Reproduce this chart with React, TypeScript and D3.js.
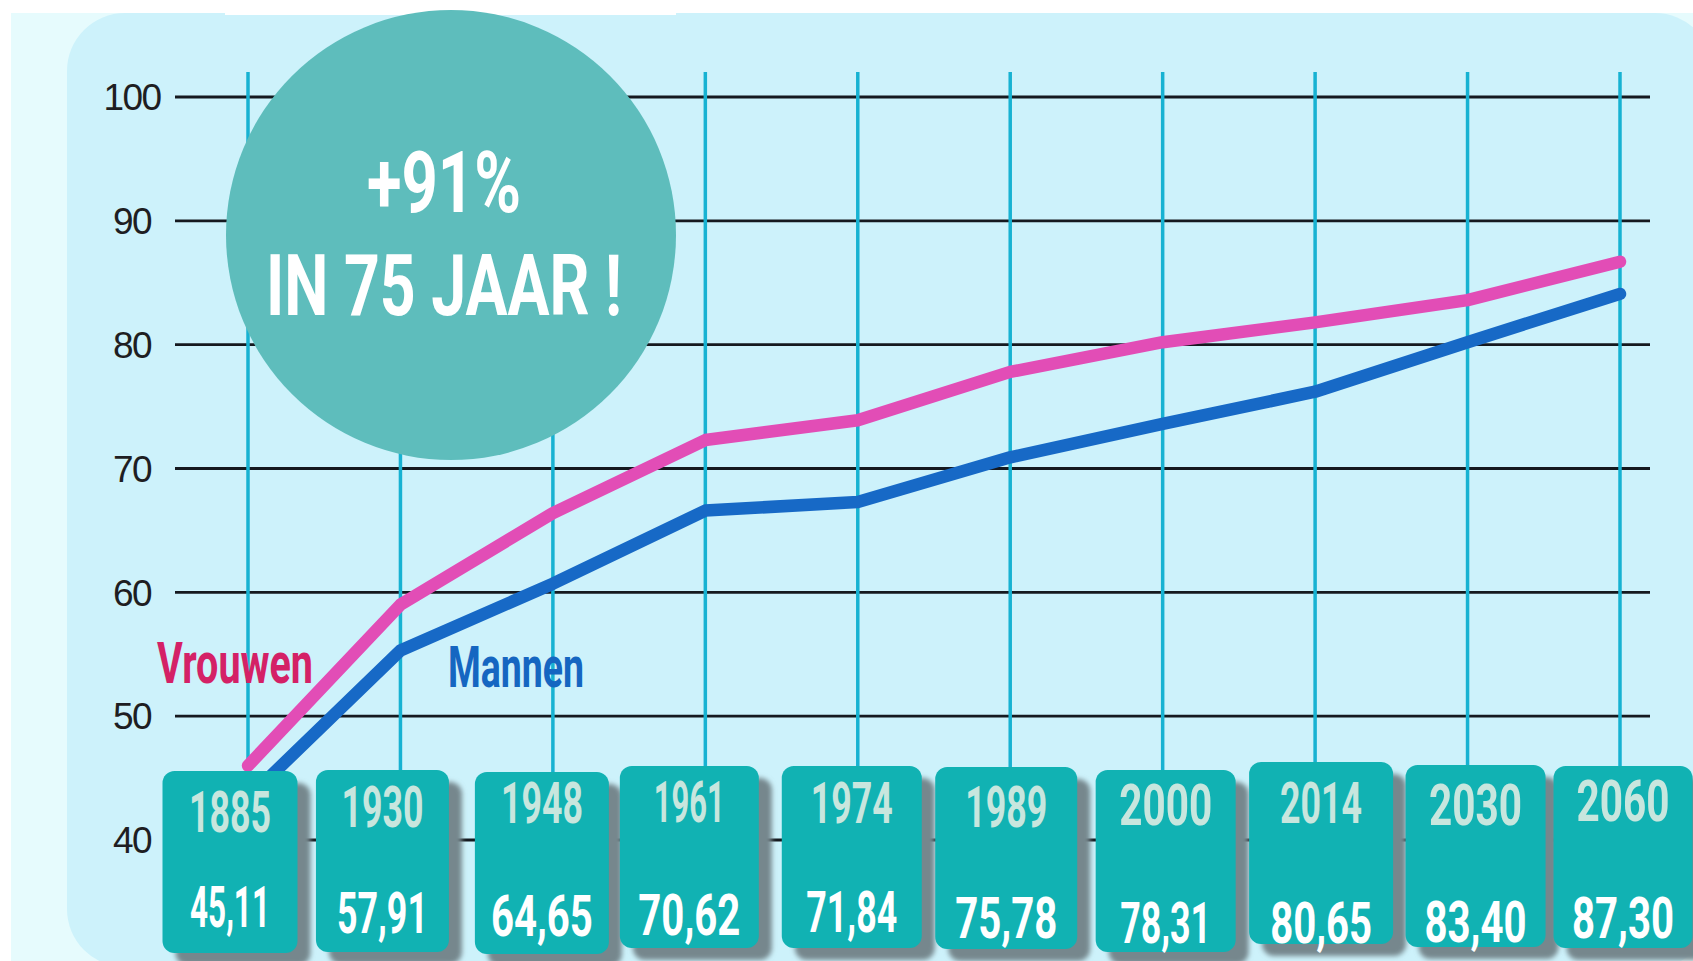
import React, { useLayoutEffect, useRef, useState } from 'react';
import * as d3 from 'd3';

// ---------- data ----------
const years = ['1885', '1930', '1948', '1961', '1974', '1989', '2000', '2014', '2030', '2060'];
const boxValues = ['45,11', '57,91', '64,65', '70,62', '71,84', '75,78', '78,31', '80,65', '83,40', '87,30'];
const vrouwen = [46.0, 59.0, 66.4, 72.3, 73.9, 77.8, 80.2, 81.8, 83.6, 86.7];
const mannen = [43.4, 55.3, 60.7, 66.6, 67.3, 70.9, 73.6, 76.2, 80.2, 84.1];
const yTicks = [40, 50, 60, 70, 80, 90, 100];
const badgeLines = ['+91%', 'IN 75 JAAR !'];
const seriesLabels = ['Vrouwen', 'Mannen'];

// ---------- layout (not data) ----------
const W = 1693;
const H = 961;
const BOX_DX = [-18, -18, -11, -16, -6, -4, 3, 6, 8, 3];
const BOX_DY = [5, 4, 6, 0, 0, 1, 4, -4, -1, 0];
const BOX_W = [135, 133, 134, 139, 140, 142, 140, 144, 140, 139];
// label nudges inside boxes (relative to the common label rows)
const YEAR_DY = [7, 2, -2, -3, -2, 2, 0, -2, 0, -4];
const VAL_DY = [-8, -2, 1, 0, -3, 3, 8, 8, 7, 3];

const COND = "Roboto, 'Liberation Sans', sans-serif";

// approximate advance model of a condensed display face
function condLen(s: string, digit = 24, one = 13, comma = 9) {
  let w = 0;
  for (const c of s) {
    if (c === '1') w += one;
    else if (c === ',') w += comma;
    else w += digit;
  }
  return w - 3;
}

type FitProps = {
  x: number;
  y: number;
  width: number;
  anchor?: 'start' | 'middle' | 'end';
  fontSize: number;
  fill: string;
  children: string;
};

// text squeezed horizontally to a target width (condensed look)
function FitText({ x, y, width, anchor = 'start', fontSize, fill, children }: FitProps) {
  const ref = useRef<SVGTextElement>(null);
  const [s, setS] = useState(0.72);
  useLayoutEffect(() => {
    if (ref.current) {
      const w = ref.current.getComputedTextLength();
      if (w > 0) setS(width / w);
    }
  }, [width, children, fontSize]);
  return (
    <text
      ref={ref}
      transform={`translate(${x},${y}) scale(${s},1)`}
      x={0}
      y={0}
      textAnchor={anchor}
      fontFamily={COND}
      fontWeight={700}
      fontSize={fontSize}
      fill={fill}
    >
      {children}
    </text>
  );
}

export default function App() {
  const x = d3.scalePoint<string>().domain(years).range([248, 1620]);
  const y = d3.scaleLinear().domain([40, 100]).range([840, 97]);
  const line = d3
    .line<number>()
    .x((_, i) => x(years[i]) as number)
    .y((d) => y(d));

  const yearRow = y(40) - 15;
  const valueRow = y(40) + 95;

  return (
    <svg
      width={W}
      height={H}
      viewBox={`0 0 ${W} ${H}`}
      style={{ position: 'absolute', left: 0, top: 0, background: '#ffffff' }}
    >
      <defs>
        <filter id="shadow" x="-20%" y="-20%" width="140%" height="140%">
          <feGaussianBlur stdDeviation="2.5" />
        </filter>
      </defs>

      {/* background */}
      <rect x={0} y={0} width={W} height={H} fill="#ffffff" />
      <rect x={11} y={13} width={W} height={H} fill="#e6fbfd" />
      <rect x={67} y={13} width={W - 67 + 20} height={H - 13 + 6} rx={58} ry={58} fill="#cdf2fb" />
      <rect x={225} y={0} width={451} height={15} fill="#ffffff" />

      {/* horizontal grid */}
      {yTicks.map((t) => (
        <line key={'h' + t} x1={175} x2={1650} y1={y(t)} y2={y(t)} stroke="#15191f" strokeWidth={2.8} />
      ))}

      {/* vertical year lines */}
      {years.map((yr) => (
        <line
          key={'v' + yr}
          x1={x(yr)}
          x2={x(yr)}
          y1={72}
          y2={y(40) - 20}
          stroke="#17b2d2"
          strokeWidth={3.5}
        />
      ))}

      {/* y labels */}
      {yTicks.map((t) => (
        <text
          key={'yl' + t}
          x={132}
          y={y(t)}
          dy="0.36em"
          textAnchor="middle"
          fontFamily="'Liberation Sans', Arial, sans-serif"
          fontSize={37}
          fill="#1e1e22"
          letterSpacing={-1.5}
        >
          {t}
        </text>
      ))}

      {/* badge circle */}
      <circle cx={451} cy={235} r={225} fill="#5ebdbc" />
      <FitText x={444} y={212} width={154} anchor="middle" fontSize={86} fill="#ffffff">
        {badgeLines[0]}
      </FitText>
      <FitText x={444} y={315} width={356} anchor="middle" fontSize={85} fill="#ffffff">
        {badgeLines[1]}
      </FitText>

      {/* series lines */}
      <path d={line(vrouwen) || ''} fill="none" stroke="#e24db6" strokeWidth={12.5} strokeLinejoin="round" strokeLinecap="round" />
      <path d={line(mannen) || ''} fill="none" stroke="#1769c6" strokeWidth={12.5} strokeLinejoin="round" strokeLinecap="round" />

      {/* series labels */}
      <FitText x={157} y={683} width={156} fontSize={58} fill="#d42166">
        {seriesLabels[0]}
      </FitText>
      <FitText x={448} y={687} width={136} fontSize={58} fill="#1566c1">
        {seriesLabels[1]}
      </FitText>

      {/* year boxes */}
      {years.map((yr, i) => {
        const cx = (x(yr) as number) + BOX_DX[i];
        const bw = BOX_W[i];
        const top = y(40) - 74 + BOX_DY[i];
        const bh = 182;
        return (
          <g key={'b' + yr}>
            <rect x={cx - bw / 2 + 13} y={top + 12} width={bw} height={bh} rx={12} fill="#76878d" filter="url(#shadow)" />
            <rect x={cx - bw / 2} y={top} width={bw} height={bh} rx={12} fill="#11b2b3" />
            <FitText x={cx} y={yearRow + YEAR_DY[i]} width={condLen(yr)} anchor="middle" fontSize={57} fill="#c8e6de">
              {yr}
            </FitText>
            <FitText x={cx} y={valueRow + VAL_DY[i]} width={condLen(boxValues[i])} anchor="middle" fontSize={57} fill="#ffffff">
              {boxValues[i]}
            </FitText>
          </g>
        );
      })}
    </svg>
  );
}
